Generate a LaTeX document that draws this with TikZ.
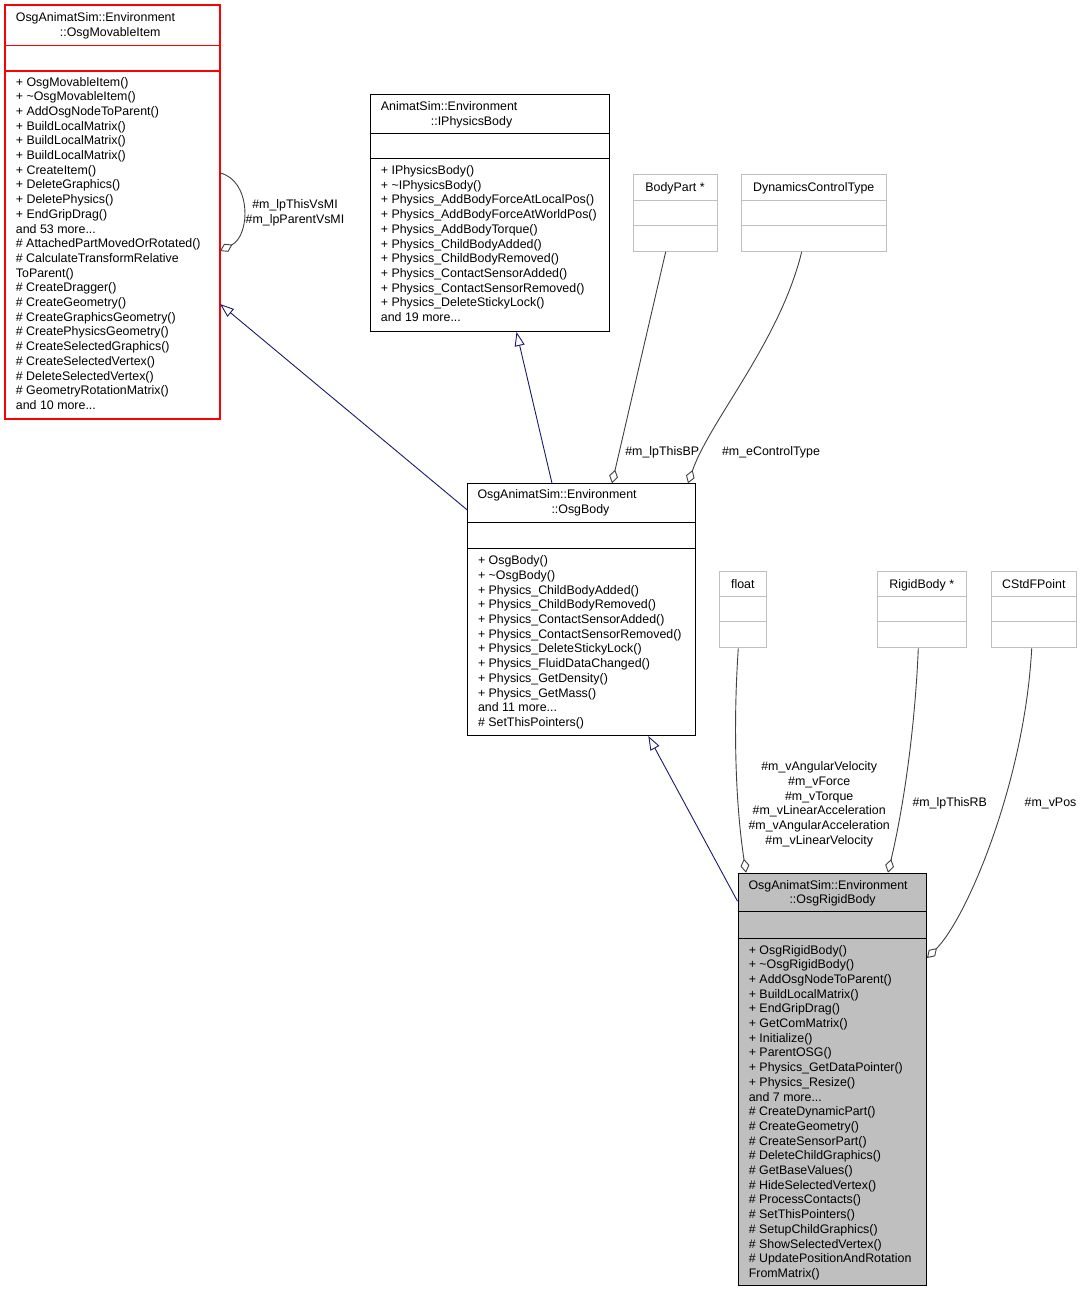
\documentclass[tikz,border=0pt]{standalone}
\usepackage{fontspec}
\setmainfont{Liberation Sans}
\usepackage{tikz}
\usetikzlibrary{arrows.meta,positioning}

\definecolor{inhblue}{HTML}{191970}
\definecolor{agggray}{HTML}{404040}
\definecolor{nodegray}{HTML}{BFBFBF}
\definecolor{basered}{HTML}{FF0000}
\newcommand{\umlfont}{\fontsize{12.4}{14.7}\selectfont}

\begin{document}
\begin{tikzpicture}[x=1pt, y=-1pt,
    every node/.style={font=\umlfont, inner sep=0pt},
    classbox/.style={draw, anchor=north west, line width=1pt},
    smallbox/.style={classbox, draw=nodegray, minimum height=76.3pt},
    txt/.style={anchor=base west, align=left},
    lbl/.style={anchor=base, align=center},
    inherit/.style={draw=inhblue, line width=0.9pt, -{Triangle[open, length=14pt, width=10pt]}},
    aggr/.style={draw=agggray, line width=0.9pt, -{Diamond[open, length=14pt, width=9pt]}}
]
\useasboundingbox (0,0) rectangle (1081,1292);

% Classes
\node[classbox, draw=none, minimum width=214pt, minimum height=413pt] (movable) at (5,5) {};
\node[classbox, minimum width=239pt, minimum height=237pt] (iphys) at (369.5,94) {};
\node[classbox, minimum width=227.7pt, minimum height=251.7pt] (osgbody) at (467.3,483.3) {};
\node[classbox, fill=nodegray, minimum width=188.5pt, minimum height=412.3pt] (rigid) at (737.5,872.7) {};

\node[smallbox, minimum width=84pt] (bodypart) at (632.5,174.5) {};
\node[smallbox, minimum width=145.5pt] (dynamics) at (740.5,174.5) {};
\node[smallbox, minimum width=46.7pt] (float) at (719,571) {};
\node[smallbox, minimum width=89pt] (rigidbody) at (876.7,571) {};
\node[smallbox, minimum width=84.5pt] (cstd) at (991,571) {};

% Compartments
\foreach \n/\a/\b/\c in {iphys/39.3/65/black, osgbody/39/64.7/black, rigid/39/65.3/black,
        bodypart/25.5/51/nodegray, dynamics/25.5/51/nodegray,
        float/25/50.7/nodegray, rigidbody/25/50.7/nodegray, cstd/25/50.7/nodegray}
    \foreach \d in {\a,\b}
        \draw[\c, line width=1pt] ([yshift=-\d]\n.north west) -- ([yshift=-\d]\n.north east);

% Titles (placed at the baseline of their last line)
\node[txt] (movable-t) at (15.7,36.2) {OsgAnimatSim::Environment\\\hspace*{44pt}::OsgMovableItem};
\node[txt] (iphys-t) at (380.7,125.2) {AnimatSim::Environment\\\hspace*{50pt}::IPhysicsBody};
\node[txt] (osgbody-t) at (477.3,513.2) {OsgAnimatSim::Environment\\\hspace*{74pt}::OsgBody};
\node[txt] (rigid-t) at (748.3,903.7) {OsgAnimatSim::Environment\\\hspace*{41pt}::OsgRigidBody};

\node[lbl] (bodypart-t) at ([yshift=-17]bodypart.north) {BodyPart *};
\node[lbl] (dynamics-t) at ([yshift=-17]dynamics.north) {DynamicsControlType};
\node[lbl] (float-t) at ([yshift=-17]float.north) {float};
\node[lbl] (rigidbody-t) at ([yshift=-17]rigidbody.north) {RigidBody *};
\node[lbl] (cstd-t) at ([yshift=-17]cstd.north) {CStdFPoint};

% Members
\node[txt] (movable-m) at (15.7,409.4) {+ OsgMovableItem()\\+ \textasciitilde OsgMovableItem()\\+ AddOsgNodeToParent()\\
    + BuildLocalMatrix()\\+ BuildLocalMatrix()\\+ BuildLocalMatrix()\\+ CreateItem()\\+ DeleteGraphics()\\
    + DeletePhysics()\\+ EndGripDrag()\\and 53 more...\\\# AttachedPartMovedOrRotated()\\
    \# CalculateTransformRelative\\ToParent()\\\# CreateDragger()\\\# CreateGeometry()\\
    \# CreateGraphicsGeometry()\\\# CreatePhysicsGeometry()\\\# CreateSelectedGraphics()\\
    \# CreateSelectedVertex()\\\# DeleteSelectedVertex()\\\# GeometryRotationMatrix()\\and 10 more...};
\node[txt] (iphys-m) at (380.7,321.5) {+ IPhysicsBody()\\+ \textasciitilde IPhysicsBody()\\
    + Physics\_AddBodyForceAtLocalPos()\\+ Physics\_AddBodyForceAtWorldPos()\\+ Physics\_AddBodyTorque()\\
    + Physics\_ChildBodyAdded()\\+ Physics\_ChildBodyRemoved()\\+ Physics\_ContactSensorAdded()\\
    + Physics\_ContactSensorRemoved()\\+ Physics\_DeleteStickyLock()\\and 19 more...};
\node[txt] (osgbody-m) at (477.8,726.4) {+ OsgBody()\\+ \textasciitilde OsgBody()\\+ Physics\_ChildBodyAdded()\\
    + Physics\_ChildBodyRemoved()\\+ Physics\_ContactSensorAdded()\\+ Physics\_ContactSensorRemoved()\\
    + Physics\_DeleteStickyLock()\\+ Physics\_FluidDataChanged()\\+ Physics\_GetDensity()\\
    + Physics\_GetMass()\\and 11 more...\\\# SetThisPointers()};
\node[txt] (rigid-m) at (748.6,1277.4) {+ OsgRigidBody()\\+ \textasciitilde OsgRigidBody()\\+ AddOsgNodeToParent()\\
    + BuildLocalMatrix()\\+ EndGripDrag()\\+ GetComMatrix()\\+ Initialize()\\+ ParentOSG()\\
    + Physics\_GetDataPointer()\\+ Physics\_Resize()\\and 7 more...\\\# CreateDynamicPart()\\
    \# CreateGeometry()\\\# CreateSensorPart()\\\# DeleteChildGraphics()\\\# GetBaseValues()\\
    \# HideSelectedVertex()\\\# ProcessContacts()\\\# SetThisPointers()\\\# SetupChildGraphics()\\
    \# ShowSelectedVertex()\\\# UpdatePositionAndRotation\\FromMatrix()};

% the base class is outlined in red
\draw[basered, line width=1.2pt] (movable.north west) rectangle (movable.south east);
\draw[basered, line width=1.2pt] ([yshift=-40.5]movable.north west) -- ([yshift=-40.5]movable.north east);
\draw[basered, line width=1.2pt] ([yshift=-66]movable.north west) -- ([yshift=-66]movable.north east);

% Inheritance
\draw[inherit] ([yshift=-26.7]osgbody.north west) -- ([yshift=-299]movable.north east);
\draw[inherit] ([xshift=84.7]osgbody.north west) -- ([xshift=147]iphys.south west);
\draw[inherit] ([yshift=-28.5]rigid.north west) -- ([xshift=181]osgbody.south west);

% Aggregation
\draw[aggr] ([yshift=-168]movable.north east) .. controls +(31,7) and +(31,-16) .. ([yshift=-246]movable.north east);
\draw[aggr] ([xshift=33.2]bodypart.south west) -- ([xshift=144.7]osgbody.north west);
\draw[aggr] ([xshift=61.2]dynamics.south west) .. controls +(-22,90) and +(22,-63) .. ([xshift=220.7]osgbody.north west);
\draw[aggr] ([xshift=19.3]float.south west) .. controls +(-5,73) and +(-11,-72) .. ([xshift=8.5]rigid.north west);
\draw[aggr] ([xshift=41.6]rigidbody.south west) .. controls +(-3,73) and +(17,-72) .. ([xshift=150.5]rigid.north west);
\draw[aggr] ([xshift=40.7]cstd.south west) .. controls +(-7,133) and +(40,-40) .. ([yshift=-85.3]rigid.north east);

% Edge labels
\node[lbl] (vsmi-l) at (295,223) {\#m\_lpThisVsMI\\\#m\_lpParentVsMI};
\node[lbl] (thisbp-l) at (662.2,455) {\#m\_lpThisBP};
\node[lbl] (ctrl-l) at (771,455) {\#m\_eControlType};
\node[lbl] (vel-l) at (819.2,844.2) {\#m\_vAngularVelocity\\\#m\_vForce\\\#m\_vTorque\\
    \#m\_vLinearAcceleration\\\#m\_vAngularAcceleration\\\#m\_vLinearVelocity};
\node[lbl] (thisrb-l) at (949.7,806.7) {\#m\_lpThisRB};
\node[lbl] (vpos-l) at (1050.5,806.7) {\#m\_vPos};
\end{tikzpicture}
\end{document}
